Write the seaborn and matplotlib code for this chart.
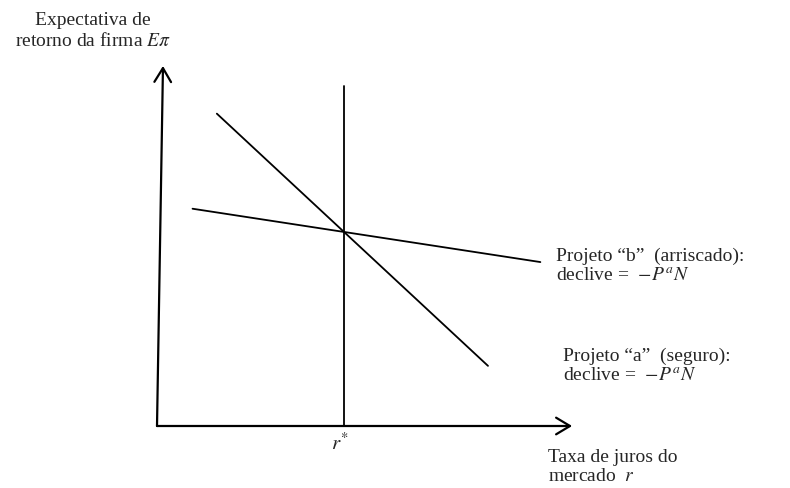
import numpy as np
import matplotlib
matplotlib.use('Agg')
import matplotlib.pyplot as plt
import seaborn as sns

sns.set_style('white')
plt.rcParams['font.family'] = ['Liberation Serif', 'DejaVu Serif']
plt.rcParams['mathtext.fontset'] = 'stix'

# model units: r* = 1, the crossing point's return = 1
r_star = 1.0
e_cross = 1.0

# project a (safe, steep) and project b (risky, flat)
a_x = [0.32, 1.77]
a_y = [1.61, 0.31]
b_x = [0.19, 2.05]
b_y = [1.12, 0.845]

# r* vertical line
v_x = [r_star, r_star]
v_y = [0.0, 1.75]

# axes ends
x_axis_end = 2.22
y_axis_top = (0.032, 1.856)

fig = plt.figure(figsize=(7.9, 4.89), dpi=100)
ax = fig.add_axes([0, 0, 1, 1])
ax.set_xlim(-0.8396, 3.385)
ax.set_ylim(-0.3196, 2.201)
ax.axis('off')

sns.lineplot(x=a_x, y=a_y, ax=ax, color='black', lw=1.3, estimator=None, sort=False)
sns.lineplot(x=b_x, y=b_y, ax=ax, color='black', lw=1.3, estimator=None, sort=False)
sns.lineplot(x=v_x, y=v_y, ax=ax, color='black', lw=1.3, estimator=None, sort=False)

arrow = dict(arrowstyle='->,head_length=1.0,head_width=0.6', color='black', lw=1.6,
             shrinkA=0, shrinkB=0)
ax.annotate('', xy=(x_axis_end, 0), xytext=(0, 0), arrowprops=arrow)
ax.annotate('', xy=y_axis_top, xytext=(0, 0), arrowprops=arrow)

fs = 14
ls = 1.2
ax.text(-0.345, 2.04, 'Expectativa de\nretorno da firma $\\mathit{E\\pi}$', ha='center',
        va='center', fontsize=fs, linespacing=ls)
ax.text(2.133, 0.83, 'Projeto \u201cb\u201d  (arriscado):\ndeclive =  $-P^aN$', ha='left',
        va='center', fontsize=fs, linespacing=ls)
ax.text(2.17, 0.314, 'Projeto \u201ca\u201d  (seguro):\ndeclive =  $-P^aN$', ha='left',
        va='center', fontsize=fs, linespacing=ls)
ax.text(r_star - 0.02, -0.088, '$r^{*}$', ha='center', va='center', fontsize=fs + 1)
ax.text(2.09, -0.206, 'Taxa de juros do\nmercado  $r$', ha='left', va='center',
        fontsize=fs, linespacing=ls)

fig.savefig('out.png', dpi=100)
